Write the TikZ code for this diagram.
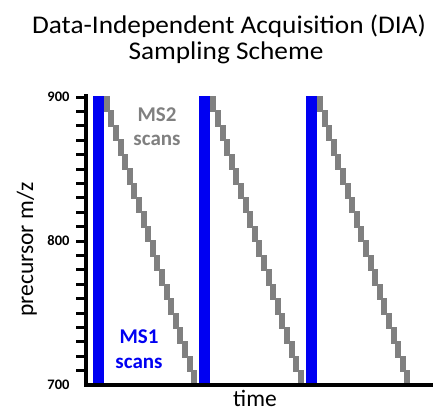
\documentclass[tikz,border=0pt]{standalone}
\usepackage{fontspec}
\usepackage{graphicx}
\setmainfont{Carlito}
\tikzset{
	scanbar/.style={fill, color=blue!95!black},
	scanstep/.style={fill, color=black!50},
	ticklabel/.style={anchor=east, font=\fontsize{14.5}{16}\selectfont\bfseries},
	axislabel/.style={font=\fontsize{23.5}{26}\selectfont, inner sep=0pt},
	titletext/.style={anchor=base, font=\fontsize{25.5}{28}\selectfont},
}
\begin{document}
\begin{tikzpicture}[x=1pt, y=-1pt]
	\useasboundingbox (0,0) rectangle (446,413);

	%title
	\node[titletext] (title) at (229,33) {\scalebox{1.07}[1]{Data-Independent Acquisition (DIA)}};
	\node[titletext] (subtitle) at (226,59) {\scalebox{1.07}[1]{Sampling Scheme}};

	%scans
	\foreach \c in {0,1,2}
	{
		\draw[scanbar] (93+\c*106.6,96) rectangle ++(10,288);
		\foreach \i in {0,...,19}
			\draw[scanstep] (104+\c*106.6+\i*4.6,96+\i*14.45) rectangle ++(5,15.5);
	}

	%axis
	\draw[line width=4pt] (85.5,94) -- (85.5,385) -- (433,385);
	%ticks
	\foreach \y in {0,...,19}
		\draw[line width=3pt] (76,97+\y*14.4) -- (86,97+\y*14.4);
	\node[ticklabel] (t900) at (73,97) {900};
	\node[ticklabel] (t800) at (73,241) {800};
	\node[ticklabel] (t700) at (73,385) {700};

	%labels
	\node[axislabel, rotate=90, anchor=base] (ylabel) at (33,249.5) {precursor m/z};
	\node[axislabel, anchor=base] (xlabel) at (255,406.5) {time};
	\node[anchor=base, color=black!50, font=\fontsize{21}{24}\selectfont\bfseries] (ms2) at (157,121) {MS2};
	\node[anchor=base, color=black!50, font=\fontsize{21}{24}\selectfont\bfseries] (ms2b) at (157,145) {scans};
	\node[anchor=base, color=blue!95!black, font=\fontsize{21}{24}\selectfont\bfseries] (ms1) at (139,343) {MS1};
	\node[anchor=base, color=blue!95!black, font=\fontsize{21}{24}\selectfont\bfseries] (ms1b) at (139,368) {scans};
\end{tikzpicture}
\end{document}
